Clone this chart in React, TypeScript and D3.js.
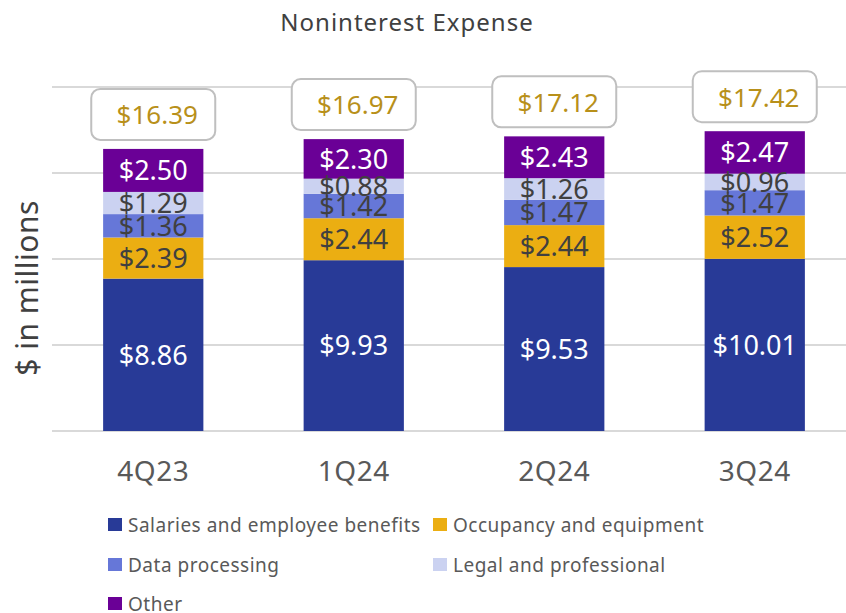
import React, { useEffect, useRef } from 'react';
import * as d3 from 'd3';

const quarters = ['4Q23', '1Q24', '2Q24', '3Q24'];
const salaries = [8.86, 9.93, 9.53, 10.01];
const occupancy = [2.39, 2.44, 2.44, 2.52];
const dataProcessing = [1.36, 1.42, 1.47, 1.47];
const legal = [1.29, 0.88, 1.26, 0.96];
const other = [2.5, 2.3, 2.43, 2.47];
const totals = [16.39, 16.97, 17.12, 17.42];
const yTicks = [0, 5, 10, 15, 20];

const seriesNames = [
  'Salaries and employee benefits',
  'Occupancy and equipment',
  'Data processing',
  'Legal and professional',
  'Other',
];
const seriesValues = [salaries, occupancy, dataProcessing, legal, other];
const colors = ['#283a97', '#ebae12', '#6677d8', '#cbd2f1', '#6a0096'];
const labelColors = ['#ffffff', '#404040', '#404040', '#404040', '#ffffff'];

const FONT = '"Noto Sans", sans-serif';

function App() {
  const ref = useRef<SVGSVGElement>(null);

  useEffect(() => {
    const svg = d3.select(ref.current);
    svg.selectAll('*').remove();

    const x = d3.scaleBand<string>()
      .domain(quarters)
      .range([53, 855])
      .paddingInner(0.5)
      .paddingOuter(0.25);

    const y = d3.scaleLinear().domain([0, 20]).range([431, 87]);

    // gridlines
    svg.append('g')
      .selectAll('line')
      .data(yTicks)
      .enter().append('line')
      .attr('x1', 52)
      .attr('x2', 846)
      .attr('y1', (d) => y(d))
      .attr('y2', (d) => y(d))
      .attr('stroke', '#d9d9d9')
      .attr('stroke-width', 2);

    // title
    svg.append('text')
      .attr('x', 407)
      .attr('y', 31)
      .attr('text-anchor', 'middle')
      .attr('font-family', FONT)
      .attr('font-size', 24)
      .attr('letter-spacing', 1)
      .attr('fill', '#404040')
      .text('Noninterest Expense');

    // y axis title
    svg.append('text')
      .attr('transform', 'translate(38,288) rotate(-90)')
      .attr('text-anchor', 'middle')
      .attr('font-family', FONT)
      .attr('font-size', 30)
      .attr('letter-spacing', 0.5)
      .attr('fill', '#404040')
      .text('$ in millions');

    const table = quarters.map((q, i) => {
      const row: any = { q };
      seriesNames.forEach((s, j) => { row[s] = seriesValues[j][i]; });
      return row;
    });
    const stacked = d3.stack().keys(seriesNames)(table);

    const layers = svg.append('g')
      .selectAll('g')
      .data(stacked)
      .enter().append('g')
      .attr('fill', (d, i) => colors[i]);

    layers.selectAll('rect')
      .data((d) => d)
      .enter().append('rect')
      .attr('x', (d: any) => x(d.data.q)!)
      .attr('width', x.bandwidth())
      .attr('y', (d) => y(d[1]))
      .attr('height', (d) => y(d[0]) - y(d[1]));

    const labels = svg.append('g')
      .selectAll('g')
      .data(stacked)
      .enter().append('g')
      .attr('fill', (d, i) => labelColors[i]);

    labels.selectAll('text')
      .data((d) => d)
      .enter().append('text')
      .attr('x', (d: any) => x(d.data.q)! + x.bandwidth() / 2)
      .attr('y', (d) => (y(d[0]) + y(d[1])) / 2)
      .attr('dy', '0.36em')
      .attr('text-anchor', 'middle')
      .attr('font-family', FONT)
      .attr('font-size', 27)
      .text((d) => '$' + (d[1] - d[0]).toFixed(2));

    // total callouts
    const stackTop = (i: number) => seriesValues.reduce((s, arr) => s + arr[i], 0);
    const callouts = svg.append('g')
      .selectAll('g')
      .data(quarters)
      .enter().append('g')
      .attr('transform', (q, i) =>
        `translate(${x(q)! + x.bandwidth() / 2},${y(stackTop(i)) - 9})`);

    callouts.append('rect')
      .attr('x', -62)
      .attr('y', -51)
      .attr('width', 124)
      .attr('height', 51)
      .attr('rx', 9)
      .attr('fill', '#ffffff')
      .attr('stroke', '#bfbfbf')
      .attr('stroke-width', 2);

    callouts.append('text')
      .attr('x', 4)
      .attr('y', -25)
      .attr('dy', '0.36em')
      .attr('text-anchor', 'middle')
      .attr('font-family', FONT)
      .attr('font-size', 26)
      .attr('fill', '#b8901a')
      .text((q, i) => '$' + totals[i].toFixed(2));

    // x labels
    svg.append('g')
      .selectAll('text')
      .data(quarters)
      .enter().append('text')
      .attr('x', (q) => x(q)! + x.bandwidth() / 2)
      .attr('y', 481)
      .attr('text-anchor', 'middle')
      .attr('font-family', FONT)
      .attr('font-size', 28)
      .attr('letter-spacing', 0.5)
      .attr('fill', '#595959')
      .text((q) => q);

    // legend
    const legendPos = [
      [108, 525], [433, 525],
      [108, 565], [433, 565],
      [108, 604],
    ];
    const legend = svg.append('g')
      .selectAll('g')
      .data(seriesNames)
      .enter().append('g')
      .attr('transform', (d, i) => `translate(${legendPos[i][0]},${legendPos[i][1]})`);

    legend.append('rect')
      .attr('x', 0)
      .attr('y', -7)
      .attr('width', 14)
      .attr('height', 13)
      .attr('fill', (d, i) => colors[i]);

    legend.append('text')
      .attr('x', 20)
      .attr('y', 0)
      .attr('dy', '0.36em')
      .attr('font-family', FONT)
      .attr('font-size', 19)
      .attr('letter-spacing', 0.5)
      .attr('fill', '#595959')
      .text((d) => d);
  }, []);

  return (
    <svg ref={ref} width={846} height={613} style={{ position: 'absolute', left: 0, top: 0 }} />
  );
}

export default App;
